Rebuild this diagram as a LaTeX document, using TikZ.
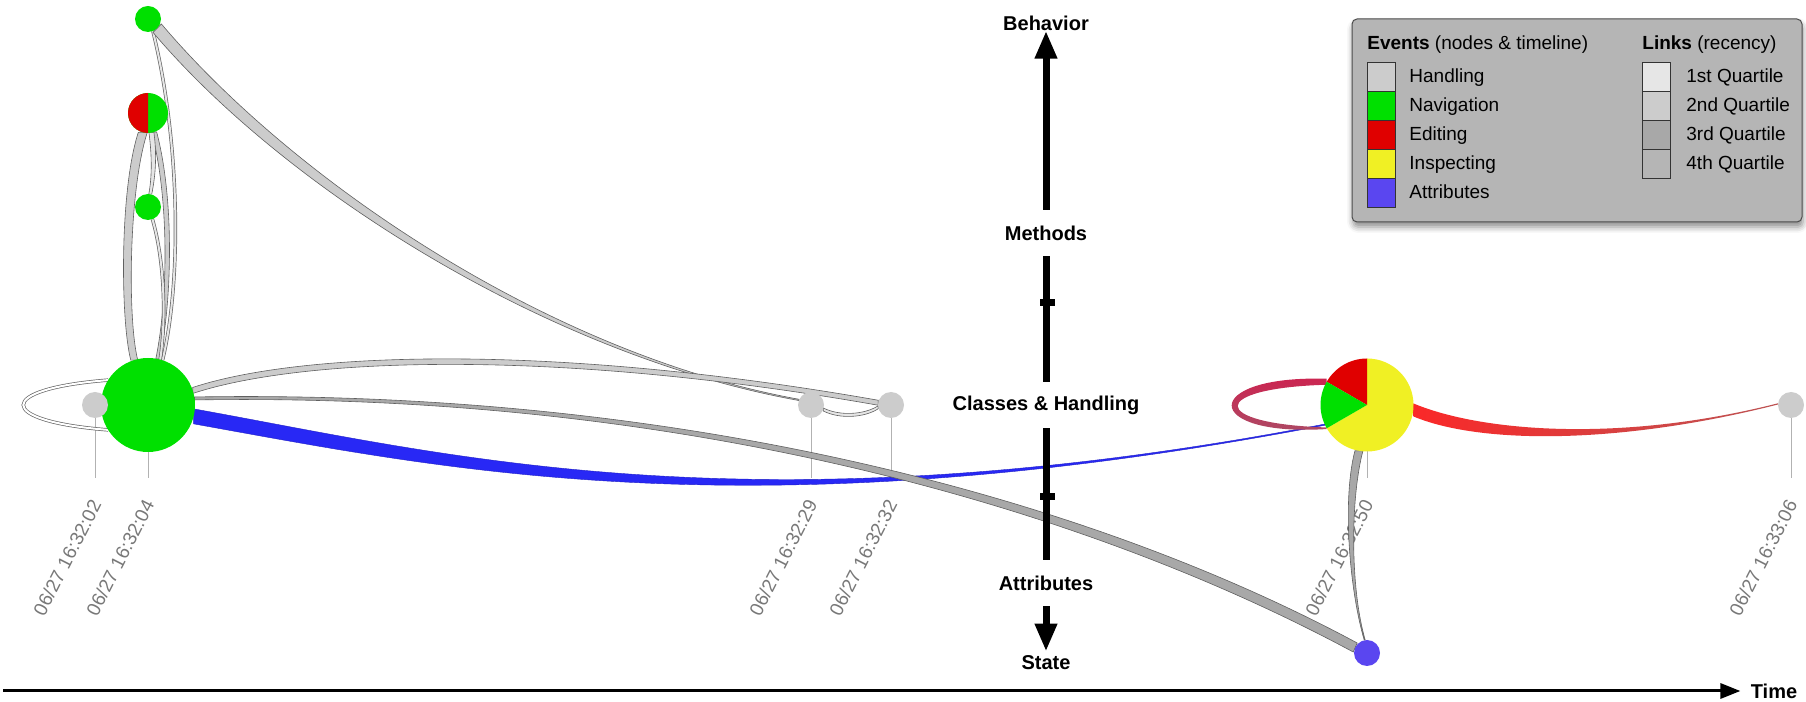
\documentclass[tikz,border=0pt]{standalone}
\usepackage{fontspec}
\setsansfont{Liberation Sans}
\usepackage{tikz}
\usetikzlibrary{arrows.meta,positioning,calc,shadows.blur}

\definecolor{navGreen}{RGB}{0,224,0}
\definecolor{editRed}{RGB}{224,0,0}
\definecolor{inspYellow}{RGB}{240,240,36}
\definecolor{attrBlue}{RGB}{90,70,240}
\definecolor{handleGrey}{RGB}{204,204,204}
\definecolor{linkBlue}{RGB}{40,40,245}
\definecolor{linkRed}{RGB}{250,40,40}
\definecolor{loopRed}{RGB}{205,35,80}
\definecolor{qOne}{RGB}{230,230,230}
\definecolor{qTwo}{RGB}{204,204,204}
\definecolor{qThree}{RGB}{168,168,168}
\definecolor{qFour}{RGB}{181,181,181}
\definecolor{legendFill}{RGB}{181,181,181}
\definecolor{dateGrey}{RGB}{120,120,120}

% tapered link: [style]{from}{ctrl 1}{ctrl 2}{to}{half width at from}{half width at to}
\newcommand{\taperlink}[7][]{%
  \path[#1] ($(#2)+(#6)$) .. controls ($(#3)+(#6)$) and ($(#4)+(#7)$) .. ($(#5)+(#7)$)
    -- ($(#5)-(#7)$) .. controls ($(#4)-(#7)$) and ($(#3)-(#6)$) .. ($(#2)-(#6)$) -- cycle;}

\begin{document}
\begin{tikzpicture}[
    x=0.5pt, y=0.5pt,
    font=\sffamily,
    eventNode/.style={circle, inner sep=0pt, outer sep=0pt, minimum size=13pt},
    axisLabel/.style={font=\sffamily\bfseries\fontsize{10}{12}\selectfont, inner sep=0pt},
    axisGap/.style={axisLabel, minimum height=23pt},
    axisLine/.style={line width=3.5pt},
    axisArrow/.style={axisLine, -{Triangle[length=14pt, width=10.5pt]}},
    axisTick/.style={fill=black, minimum width=7.5pt, minimum height=3.5pt, inner sep=0pt},
    timeArrow/.style={line width=1.5pt, -{Triangle[length=10pt, width=7.5pt]}},
    tickLine/.style={draw=gray!60, line width=0.5pt},
    dateLabel/.style={rotate=63, anchor=east, inner sep=0pt, text=dateGrey,
        font=\sffamily\fontsize{9.5}{11}\selectfont},
    link/.style={fill=#1, draw=gray!75!black, line width=0.3pt},
    thinLink/.style={draw=gray!80!black, line width=0.35pt, double=#1, double distance=1pt},
    legendBox/.style={
        rectangle, rounded corners=2.5pt, draw=gray!60!black, line width=0.5pt,
        fill=legendFill, inner sep=0pt,
        blur shadow={shadow xshift=0.5pt, shadow yshift=-2.5pt, shadow blur radius=3pt, shadow opacity=45}
    },
    swatch/.style={draw=black!80, line width=0.5pt, minimum width=14pt, minimum height=14.5pt,
        inner sep=0pt, fill=#1},
    legendText/.style={font=\sffamily\fontsize{9.5}{11}\selectfont, inner sep=0pt, anchor=base west}
]
\useasboundingbox (0,0) rectangle (1806,702);

% Events (painted after the links)
\node[eventNode] (nav1) at (148,683) {};
\node[eventNode, minimum size=20pt] (mix) at (148,589) {};
\node[eventNode] (nav2) at (148,495) {};
\node[eventNode, minimum size=47pt] (hub) at (148,297) {};
\node[eventNode] (h02) at (95,297) {};
\node[eventNode] (h29) at (811,297) {};
\node[eventNode] (h32) at (891,297) {};
\node[eventNode, minimum size=46.5pt] (pie) at (1367,297) {};
\node[eventNode] (h06) at (1791,297) {};
\node[eventNode] (attr) at (1367,49) {};

% Timeline ticks and time stamps
\coordinate (tickend) at (0,224);
\foreach \ev/\stamp in {h02/16:32:02, hub/16:32:04, h29/16:32:29, h32/16:32:32, pie/16:32:50, h06/16:33:06} {
    \draw[tickLine] (\ev) -- (\ev |- tickend);
    \node[dateLabel] at ($(\ev |- tickend)+(1,-23)$) {06/27 \stamp};
}

% Links
\taperlink[link=qTwo]{mix.-105}{124,512}{124,382}{hub.107}{4.5,0}{3.5,0}
\taperlink[link=qTwo]{mix.-72}{172,502}{170,402}{hub.78}{2.5,0}{2,0}
\draw[thinLink=qOne] (nav1.-68) .. controls (180,562) and (182,422) .. (hub.72);
\taperlink[link=qOne]{mix.-80}{155,542}{153,522}{nav2.80}{2.5,0}{1.5,0}
\draw[thinLink=qOne] (nav2.-70) .. controls (165,440) and (166,380) .. (hub.75);
\draw[thinLink=white] (hub.148) .. controls (-5,313) and (-5,281) .. (hub.212);
\taperlink[link=qTwo]{nav1.-45}{290,517}{550,347}{h29.157}{4.2,4.2}{0.15,0.6}
\taperlink[link=qTwo]{hub.18}{300,347}{550,357}{h32.170}{0,3}{0,2.5}
\taperlink[link=qOne]{h29.-20}{840,284}{865,286}{h32.190}{0,1.5}{0,1.5}
\taperlink[fill=linkBlue, draw=linkBlue!80!black, line width=0.2pt]{hub.-14}{443,241}{750,167}{pie.205}{0,7.5}{0,0.6}
\taperlink[link=qThree]{hub.8}{700,312}{1100,192}{attr.155}{0,1.5}{2,4.5}
\path[shade, top color=loopRed, bottom color=loopRed!55!gray]
    ($(pie.150)+(0,3)$) .. controls (1200,327) and (1200,265) .. ($(pie.210)+(0,-0.8)$)
    -- ($(pie.210)+(0,0.8)$) .. controls (1208,278) and (1208,314) .. ($(pie.150)+(0,-3)$) -- cycle;
\taperlink[shade, left color=linkRed, right color=linkRed!50!gray]{pie.-6}{1480,264}{1620,258}{h06.175}{0,6.5}{0,0.6}
\taperlink[link=qThree]{pie.-100}{1346,202}{1350,112}{attr.100}{4,0}{0.5,0}

% Paint the events on top
\foreach \ev/\col/\r in {nav1/navGreen/13, mix/navGreen/20, nav2/navGreen/13, hub/navGreen/47,
        h02/handleGrey/13, h29/handleGrey/13, h32/handleGrey/13, h06/handleGrey/13, attr/attrBlue/13} {
    \fill[\col] (\ev) circle[radius=\r];
}
\fill[editRed] (mix.north) arc[start angle=90, end angle=270, radius=20] -- cycle;
\fill[inspYellow] (pie.center) -- (pie.90) arc[start angle=90, end angle=-150, radius=46.5] -- cycle;
\fill[editRed] (pie.center) -- (pie.90) arc[start angle=90, end angle=150, radius=46.5] -- cycle;
\fill[navGreen] (pie.center) -- (pie.150) arc[start angle=150, end angle=210, radius=46.5] -- cycle;

% Vertical scale
\node[axisLabel] (behavior) at (1046,679) {Behavior};
\node[axisGap] (methods) at (1046,469) {Methods};
\node[axisGap] (classes) at (1046,297) {Classes \& Handling};
\node[axisGap] (attributes) at (1046,119) {Attributes};
\node[axisLabel] (state) at (1046,39) {State};
\draw[axisArrow] (methods.north) -- (behavior.south);
\draw[axisLine] (methods.south) -- (classes.north);
\draw[axisLine] (classes.south) -- (attributes.north);
\draw[axisArrow] (attributes.south) -- ([yshift=2pt]state.north);
\node[axisTick] (tickUp) at (1047,399) {};
\node[axisTick] (tickDown) at (1047,205) {};

% Time axis
\coordinate (timeStart) at (3,11);
\node[axisLabel] (time) at (1774,11) {Time};
\draw[timeArrow] (timeStart) -- ([xshift=-5pt]time.west);

% Legend
\node[legendBox, minimum width=225pt, minimum height=101.5pt] (legend) at (1577,581.5) {};
\node[legendText] (evHead) at (1367,652) {\textbf{Events} (nodes \& timeline)};
\node[legendText] (lnHead) at (1642,652) {\textbf{Links} (recency)};
\foreach \col/\name [count=\i from 0] in {handleGrey/Handling, navGreen/Navigation, editRed/Editing, inspYellow/Inspecting, attrBlue/Attributes} {
    \node[swatch=\col] (ev\i) at (1381,624.5-29*\i) {};
    \node[legendText] at (1409,619-29*\i) {\name};
}
\foreach \col/\name [count=\i from 0] in {qOne/1st Quartile, qTwo/2nd Quartile, qThree/3rd Quartile, qFour/4th Quartile} {
    \node[swatch=\col] (ln\i) at (1656.5,624.5-29*\i) {};
    \node[legendText] at (1686,619-29*\i) {\name};
}

\end{tikzpicture}
\end{document}
